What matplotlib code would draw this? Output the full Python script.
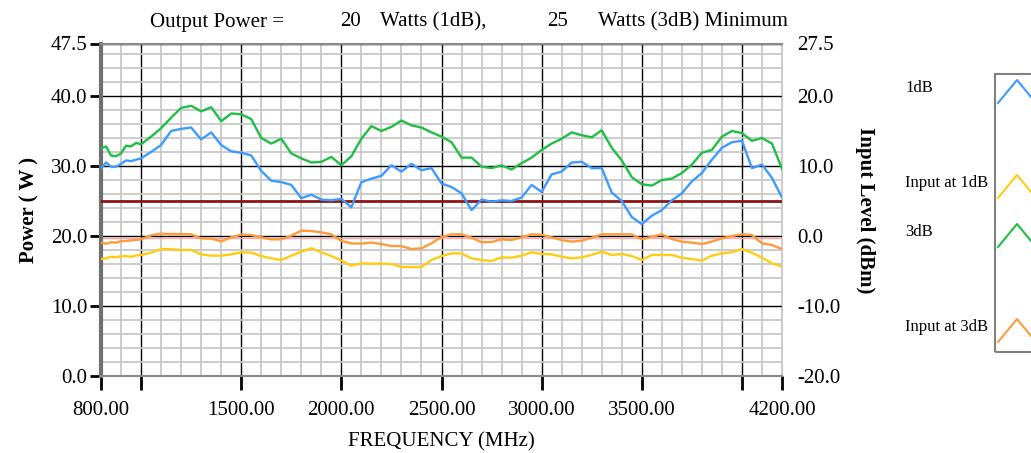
import matplotlib
matplotlib.use("Agg")
import matplotlib.pyplot as plt
from matplotlib.ticker import MultipleLocator, FixedLocator
from matplotlib.lines import Line2D
from matplotlib.patches import Rectangle

plt.rcParams['font.family'] = ['Liberation Serif', 'DejaVu Serif']

# frequency points (MHz)
freq = [800, 825, 850, 875, 900, 925, 950, 975, 1000,
        1050, 1100, 1150, 1200, 1250, 1300, 1350, 1400, 1450, 1500,
        1550, 1600, 1650, 1700, 1750, 1800, 1850, 1900, 1950, 2000,
        2050, 2100, 2150, 2200, 2250, 2300, 2350, 2400, 2450, 2500,
        2550, 2600, 2650, 2700, 2750, 2800, 2850, 2900, 2950, 3000,
        3050, 3100, 3150, 3200, 3250, 3300, 3350, 3400, 3450, 3500,
        3550, 3600, 3650, 3700, 3750, 3800, 3850, 3900, 3950, 4000,
        4050, 4100, 4150, 4200]

# output power at 1dB compression (W)
p1db = [29.6, 30.5, 29.9, 29.9, 30.3, 30.8, 30.7, 30.9, 31.1,
        32.0, 33.0, 35.0, 35.3, 35.5, 33.8, 34.8, 33.0, 32.1, 31.9,
        31.5, 29.3, 27.9, 27.7, 27.3, 25.4, 25.9, 25.2, 25.1, 25.3,
        24.1, 27.7, 28.2, 28.6, 30.1, 29.2, 30.3, 29.4, 29.7, 27.5,
        27.0, 26.1, 23.7, 25.2, 24.9, 25.1, 25.0, 25.5, 27.3, 26.3,
        28.8, 29.2, 30.5, 30.6, 29.7, 29.7, 26.2, 25.0, 22.7, 21.7,
        22.9, 23.7, 25.1, 26.1, 27.8, 29.0, 30.9, 32.6, 33.4, 33.6,
        29.7, 30.2, 28.3, 25.5]

# output power at 3dB compression (W)
p3db = [32.5, 32.8, 31.5, 31.4, 31.8, 32.9, 32.8, 33.3, 33.1,
        34.2, 35.4, 36.9, 38.3, 38.6, 37.8, 38.4, 36.4, 37.5, 37.4,
        36.7, 34.0, 33.2, 33.9, 31.8, 31.1, 30.5, 30.6, 31.3, 30.1,
        31.4, 33.9, 35.7, 35.0, 35.6, 36.5, 35.8, 35.5, 34.8, 34.2,
        33.4, 31.2, 31.2, 29.9, 29.7, 30.1, 29.5, 30.4, 31.2, 32.3,
        33.2, 33.9, 34.8, 34.4, 34.1, 35.1, 32.6, 30.8, 28.4, 27.4,
        27.2, 28.0, 28.2, 29.0, 30.2, 31.9, 32.3, 34.2, 35.0, 34.7,
        33.6, 34.0, 33.2, 29.6]

# input drive level (dBm)
in1db = [-3.29, -3.2, -2.95, -3.05, -2.86, -2.9, -2.95, -2.8, -2.71,
         -2.38, -1.86, -1.9, -2.0, -2.0, -2.62, -2.81, -2.81, -2.62, -2.33,
         -2.38, -2.86, -3.19, -3.43, -2.81, -2.24, -1.76, -2.33, -2.86, -3.52,
         -4.24, -3.9, -3.95, -3.95, -4.0, -4.43, -4.43, -4.43, -3.43, -2.86,
         -2.48, -2.48, -3.19, -3.43, -3.57, -3.05, -3.1, -2.81, -2.33, -2.57,
         -2.62, -2.95, -3.19, -3.05, -2.71, -2.24, -2.71, -2.57, -2.86, -3.43,
         -2.71, -2.71, -2.71, -3.1, -3.3, -3.52, -2.81, -2.48, -2.33, -1.86,
         -2.4, -3.1, -3.9, -4.38]

in3db = [-0.95, -1.1, -0.9, -0.95, -0.75, -0.7, -0.62, -0.55, -0.48,
         0.1, 0.33, 0.29, 0.28, 0.24, -0.33, -0.38, -0.76, -0.19, 0.19,
         0.14, -0.19, -0.48, -0.48, 0.05, 0.76, 0.71, 0.52, 0.24, -0.71,
         -1.05, -1.09, -0.95, -1.14, -1.43, -1.43, -1.86, -1.76, -1.05, -0.15,
         0.24, 0.25, -0.24, -0.9, -0.86, -0.48, -0.57, -0.19, 0.24, 0.19,
         -0.19, -0.57, -0.81, -0.67, -0.24, 0.24, 0.24, 0.24, 0.24, -0.48,
         -0.1, 0.24, -0.43, -0.81, -0.95, -1.14, -0.81, -0.33, 0.0, 0.24,
         0.14, -1.05, -1.29, -1.86]

min_power = 25.0
ref_level = 19.75

xticks = [800, 1000, 1500, 2000, 2500, 3000, 3500, 4000, 4200]
xlabels = ['800.00', '', '1500.00', '2000.00', '2500.00', '3000.00', '3500.00', '', '4200.00']
lticks = [0, 10, 20, 30, 40, 47.5]
rticks = [-20, -10, 0, 10, 20, 27.5]

c_1db = '#3d9bff'
c_3db = '#1fbf45'
c_in1 = '#ffcc11'
c_in3 = '#ff9a3a'

fig = plt.figure(figsize=(10.31, 4.53), dpi=100)
ax = fig.add_axes([101 / 1031, 77 / 453, 681 / 1031, 332.5 / 453])
ax2 = ax.twinx()

ax.set_xlim(800, 4200)
ax.set_ylim(0, 47.5)
ax2.set_ylim(-20, 27.5)

# grid
ax.xaxis.set_minor_locator(MultipleLocator(100))
ax.yaxis.set_minor_locator(MultipleLocator(2))
ax.grid(which='minor', color='#c8c8c8', linewidth=1.3)
ax.grid(which='major', color='black', linewidth=1.0)
ax.set_axisbelow(True)
ax.tick_params(which='minor', length=0)

ax.axhline(ref_level, color='#ffaaaa', linewidth=1.0, zorder=2)
ax.axhline(min_power, color='#8b1414', linewidth=2.0, zorder=3)

ax.plot(freq, p3db, color=c_3db, linewidth=1.7, zorder=4)
ax.plot(freq, p1db, color=c_1db, linewidth=1.7, zorder=4)
ax2.plot(freq, in3db, color=c_in3, linewidth=1.7)
ax2.plot(freq, in1db, color=c_in1, linewidth=1.7)

ax.set_xticks(xticks)
ax.set_xticklabels(xlabels)
ax.yaxis.set_major_locator(FixedLocator(lticks))
ax.set_yticklabels(['%.1f' % v for v in lticks])
ax2.yaxis.set_major_locator(FixedLocator(rticks))
ax2.set_yticklabels(['%.1f' % v for v in rticks])

ax.tick_params(axis='x', which='major', direction='out', length=10, width=2,
               labelsize=15, pad=8, color='black')
ax.tick_params(axis='y', which='major', direction='out', length=8, width=2,
               labelsize=15, pad=2, color='black')
ax2.tick_params(axis='y', length=0, labelsize=15, pad=11)

for s in ['top', 'bottom']:
    ax.spines[s].set_color('#8a8a8a')
    ax.spines[s].set_linewidth(1.5)
ax.spines['left'].set_color('#707070')
ax.spines['left'].set_linewidth(3)
ax.spines['right'].set_color('#cccccc')
for s in ax2.spines.values():
    s.set_visible(False)

ax.set_xlabel('FREQUENCY (MHz)', fontsize=15, labelpad=9)
ax.set_ylabel('Power ( W )', fontsize=15, fontweight='bold', labelpad=8)
ax2.set_ylabel('Input Level (dBm)', fontsize=15, fontweight='bold',
               rotation=270, labelpad=25)

# heading
fs = 15
fig.text(150 / 1031, 1 - 22 / 453, 'Output Power =', fontsize=fs, va='center')
fig.text(340 / 1031, 1 - 22 / 453, '20', fontsize=fs, va='center')
fig.text(380 / 1031, 1 - 22 / 453, 'Watts (1dB),', fontsize=fs, va='center')
fig.text(547 / 1031, 1 - 22 / 453, '25', fontsize=fs, va='center')
fig.text(598 / 1031, 1 - 22 / 453, 'Watts (3dB) Minimum', fontsize=fs, va='center')

# legend panel at the right edge
W, H = 1031.0, 453.0
fig.patches.append(Rectangle((995 / W, 1 - 352 / H), 60 / W, 278 / H,
                             transform=fig.transFigure, fill=False,
                             edgecolor='#808080', linewidth=1.5))
entries = [('1dB', c_1db, 88), ('Input at 1dB', c_in1, 183),
           ('3dB', c_3db, 232), ('Input at 3dB', c_in3, 327)]
for label, col, yy in entries:
    fig.text(905 / W, 1 - yy / H, label, fontsize=12, va='center')
    fig.lines.append(Line2D([998 / W, 1017 / W, 1036 / W],
                            [1 - (yy + 15) / H, 1 - (yy - 8) / H, 1 - (yy + 15) / H],
                            transform=fig.transFigure, color=col, linewidth=1.5))

fig.savefig('out.png', dpi=100)
